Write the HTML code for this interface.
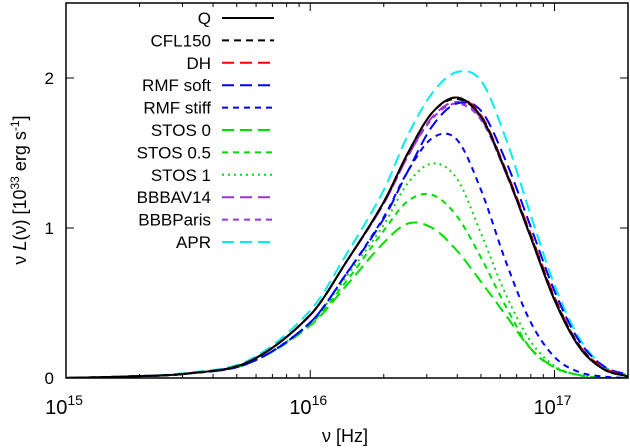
<!DOCTYPE html>
<html><head><meta charset="utf-8"><style>
body{margin:0;background:#fff}
svg{display:block}
text{font-family:"Liberation Sans",sans-serif;fill:#000}
</style></head><body>
<svg id="chart" width="630" height="448">
<g id="curves"></g>
<g id="axes"></g>
<g id="legend"></g>
</svg>
<script>
const logNu = [15,15.25,15.5,15.75,16,16.15,16.3,16.4,16.5,16.6,16.7,16.8,16.9,17,17.1,17.2,17.3];
const seriesNames = ["Q","CFL150","DH","RMF soft","RMF stiff","STOS 0","STOS 0.5","STOS 1","BBBAV14","BBBParis","APR"];
const valQ       = [0,0.01,0.03,0.11,0.42,0.78,1.17,1.5,1.77,1.87,1.74,1.38,0.95,0.52,0.21,0.06,0.01];
const valCFL150  = [0,0.01,0.03,0.11,0.42,0.78,1.17,1.5,1.77,1.86,1.74,1.38,0.96,0.53,0.22,0.06,0.01];
const valDH      = [0,0.01,0.03,0.11,0.42,0.78,1.17,1.5,1.77,1.87,1.75,1.39,0.97,0.54,0.22,0.07,0.01];
const valRMFsoft = [0,0.01,0.03,0.1,0.37,0.7,1.06,1.38,1.68,1.83,1.78,1.45,1.02,0.58,0.25,0.08,0.02];
const valRMFstiff= [0,0.01,0.03,0.1,0.37,0.7,1.07,1.38,1.6,1.59,1.25,0.78,0.38,0.14,0.04,0.01,0];
const valSTOS0   = [0,0.01,0.03,0.1,0.35,0.62,0.9,1.03,1.0,0.85,0.64,0.42,0.2,0.07,0.02,0,0];
const valSTOS05  = [0,0.01,0.03,0.1,0.36,0.65,0.98,1.18,1.22,1.08,0.8,0.48,0.2,0.07,0.02,0,0];
const valSTOS1   = [0,0.01,0.03,0.1,0.37,0.68,1.02,1.3,1.43,1.33,0.96,0.56,0.25,0.08,0.02,0,0];
const valBBBAV14 = [0,0.01,0.03,0.11,0.42,0.78,1.16,1.48,1.74,1.84,1.73,1.37,0.95,0.52,0.21,0.06,0.01];
const valBBBParis= [0,0.01,0.03,0.11,0.42,0.78,1.16,1.48,1.73,1.83,1.72,1.37,0.95,0.52,0.21,0.06,0.01];
const valAPR     = [0,0.01,0.035,0.12,0.45,0.83,1.25,1.62,1.9,2.04,1.98,1.6,1.1,0.62,0.27,0.08,0.02];
const yTicks = [0,1,2];
const xTickExps = [15,16,17];

const allVals=[valQ,valCFL150,valDH,valRMFsoft,valRMFstiff,valSTOS0,valSTOS05,valSTOS1,valBBBAV14,valBBBParis,valAPR];
const styles=[["#000","none"],["#000","7,5"],["#ff0000","12,6"],["#0000ff","12,6"],["#0000ff","6,5"],["#00dd00","12,6"],["#00dd00","6,5"],["#00dd00","2,4"],["#9933dd","12,6"],["#9933dd","6,5"],["#00eeee","12,6"]];
const X0=66,X1=628,Y0=378,YT=3;
const xs=l=>X0+(l-15)*(X1-X0)/2.301;
const ys=v=>Y0-v*150;
const NS="http://www.w3.org/2000/svg";
function mk(t,a,p){const e=document.createElementNS(NS,t);for(const k in a)e.setAttribute(k,a[k]);p.appendChild(e);return e;}
function pathFor(vals){
  const p=logNu.map((l,i)=>[xs(l),ys(vals[i])]);
  const n=p.length,m=[];
  for(let i=0;i<n;i++){
    const a=p[Math.max(0,i-1)],b=p[Math.min(n-1,i+1)];
    m.push((b[1]-a[1])/(b[0]-a[0]));
  }
  let d="M"+p[0][0]+","+p[0][1];
  for(let i=0;i<n-1;i++){
    const h=(p[i+1][0]-p[i][0])/3;
    d+=" C"+(p[i][0]+h)+","+(p[i][1]+m[i]*h)+" "+(p[i+1][0]-h)+","+(p[i+1][1]-m[i+1]*h)+" "+p[i+1][0]+","+p[i+1][1];
  }
  return d;
}
const cg=document.getElementById('curves');
const cp=mk('clipPath',{id:'cl'},cg);mk('rect',{x:X0,y:YT,width:X1-X0,height:Y0-YT},cp);
const cgi=mk('g',{'clip-path':'url(#cl)'},cg);
for(let s=allVals.length-1;s>=0;s--){
  const el=mk('path',{d:pathFor(allVals[s]),fill:'none',stroke:styles[s][0],'stroke-width':2,'stroke-dasharray':styles[s][1]},cgi);
  
  
}
const ag=document.getElementById('axes');
mk('rect',{x:X0,y:YT,width:X1-X0,height:Y0-YT,fill:'none',stroke:'#000','stroke-width':1.5},ag);
yTicks.forEach(v=>{
  mk('line',{x1:X0,x2:X0+8,y1:ys(v),y2:ys(v),stroke:'#000'},ag);
  mk('line',{x1:X1-8,x2:X1,y1:ys(v),y2:ys(v),stroke:'#000'},ag);
  const t=mk('text',{x:54,y:ys(v)+6,'font-size':17,'text-anchor':'end'},ag);t.textContent=v;
  
  
});
for(let e=15;e<=17;e++)for(let m=1;m<10;m++){
  const l=e+Math.log10(m);if(l>17.301)continue;
  const len=m==1?8:4;
  mk('line',{x1:xs(l),x2:xs(l),y1:Y0,y2:Y0-len,stroke:'#000'},ag);
  mk('line',{x1:xs(l),x2:xs(l),y1:YT,y2:YT+len,stroke:'#000'},ag);
}
xTickExps.forEach(e=>{
  const t=mk('text',{x:xs(e)-2,y:414,'font-size':20,'text-anchor':'middle'},ag);
  t.innerHTML='10<tspan dy="-9" font-size="14">'+e+'</tspan>';
  
  
});
const xt=mk('text',{x:345,y:442,'font-size':18,'text-anchor':'middle'},ag);xt.textContent='ν [Hz]';


const yt=mk('text',{x:0,y:0,'font-size':18,'text-anchor':'middle',transform:'translate(26,190) rotate(-90)'},ag);
yt.innerHTML='ν <tspan font-style="italic">L</tspan>(ν)  [10<tspan dy="-7" font-size="12">33</tspan><tspan dy="7"> erg s</tspan><tspan dy="-7" font-size="12">-1</tspan><tspan dy="7">]</tspan>';


const lg=document.getElementById('legend');
seriesNames.forEach((n,i)=>{
  const y=18+i*22.4;
  const g=mk('g',{},lg);
  
  
  const t=mk('text',{x:211,y:y+6,'font-size':17,'text-anchor':'end'},g);t.textContent=n;
  mk('line',{x1:222,x2:274,y1:y,y2:y,stroke:styles[i][0],'stroke-width':2,'stroke-dasharray':styles[i][1]},g);
});
</script>
</body></html>
